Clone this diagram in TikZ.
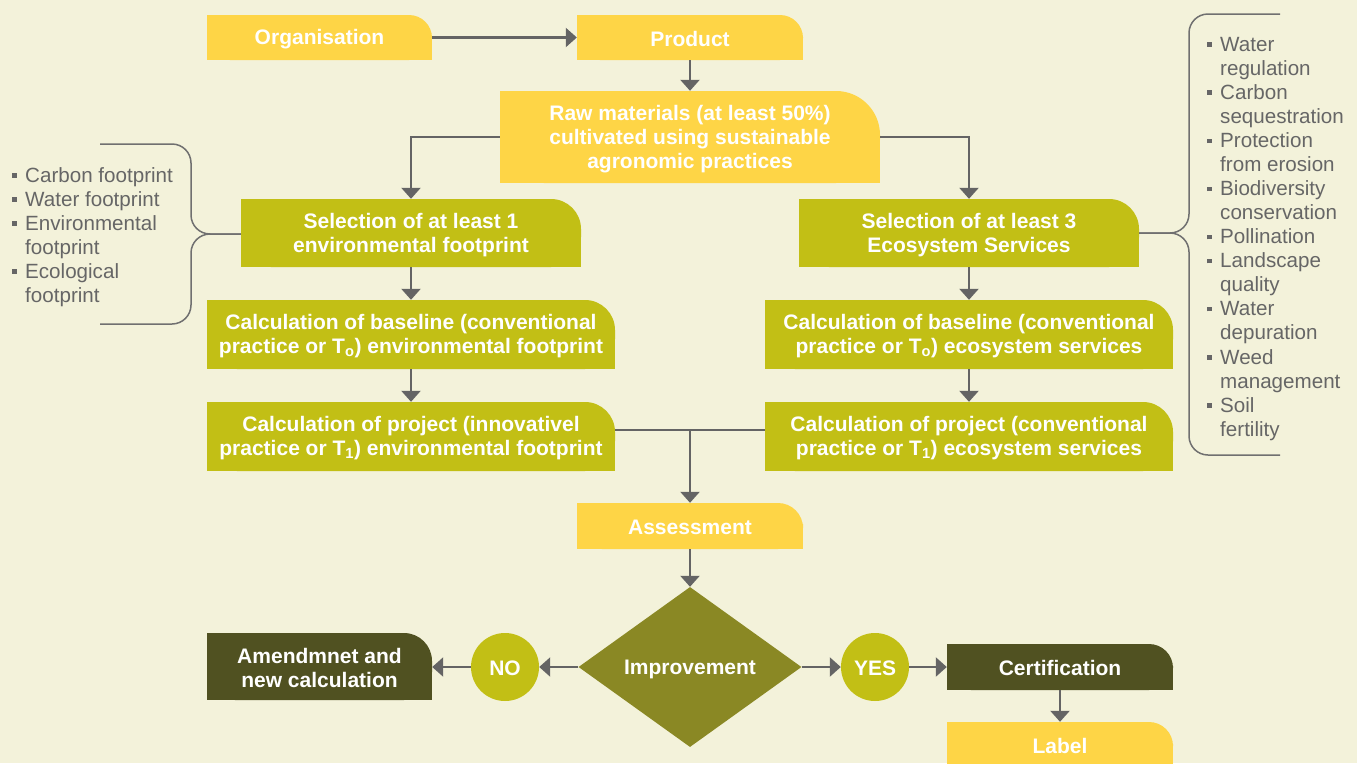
\documentclass[tikz,border=0pt]{standalone}
\usepackage{fontspec}
\setmainfont{Liberation Sans}
\usetikzlibrary{arrows.meta,shapes.geometric}
\definecolor{bg}{RGB}{243,242,218}
\definecolor{yel}{RGB}{254,213,70}
\definecolor{grn}{RGB}{194,191,21}
\definecolor{olv}{RGB}{138,136,36}
\definecolor{dkb}{RGB}{80,81,33}
\definecolor{arrc}{RGB}{100,100,100}
\definecolor{txtg}{RGB}{102,102,102}
\definecolor{brc}{RGB}{112,112,112}
\newcommand\bul{\makebox[13pt][l]{\raisebox{4.5pt}{\rule{4.5pt}{4.5pt}}}}
\newcommand\ind{\hspace*{13pt}}
\newcommand\bs{\rule[-2pt]{0pt}{21pt}}
\newcommand\mybox[8]{%
  \fill[#7,rounded corners=#6pt] (#2,#3) rectangle (#4,#5);
  \fill[#7] (#2,#3) rectangle ({#4-#6},#5);
  \fill[#7] (#2,{#3+#6}) rectangle (#4,#5);
  \node[boxtext,minimum width={#4-#2},minimum height={#5-#3}] (#1) at ({(#2+#4)/2},{(#3+#5)/2}) {#8};
}
\tikzset{
  boxtext/.style={text=white,font=\bfseries\fontsize{21}{24}\selectfont,align=center,inner sep=0pt},
  arr/.style={draw=arrc,line width=2.3pt,-{Triangle[width=19pt,length=11pt]}},
  plain/.style={draw=arrc,line width=2.3pt},
  brace/.style={draw=brc,line width=1.5pt,rounded corners=19pt},
  listtext/.style={text=txtg,font=\fontsize{20.6}{24.05}\selectfont,align=left,inner sep=0pt}
}
\begin{document}
\begin{tikzpicture}[x=1pt,y=-1pt]
\fill[bg] (0,0) rectangle (1357,763);
\useasboundingbox (0,0) rectangle (1357,763);
% boxes
\mybox{org}{207}{15}{432}{60}{23}{yel}{\bs Organisation}
\mybox{prod}{577}{15}{803}{60}{23}{yel}{\bs Product}
\mybox{raw}{500}{91}{880}{183}{44}{yel}{\bs Raw materials (at least 50\%)\\\bs cultivated using sustainable\\\bs agronomic practices}
\mybox{selenv}{241}{199}{581}{267}{30}{grn}{\bs Selection of at least 1\\\bs environmental footprint}
\mybox{seles}{799}{199}{1139}{267}{30}{grn}{\bs Selection of at least 3\\\bs Ecosystem Services}
\mybox{baseenv}{207}{300}{615}{369}{30}{grn}{\bs Calculation of baseline (conventional\\\bs practice or T\textsubscript{o}) environmental footprint}
\mybox{basees}{765}{300}{1173}{369}{30}{grn}{\bs Calculation of baseline (conventional\\\bs practice or T\textsubscript{o}) ecosystem services}
\mybox{projenv}{207}{402}{615}{471}{30}{grn}{\bs Calculation of project (innovativel\\\bs practice or T\textsubscript{1}) environmental footprint}
\mybox{projes}{765}{402}{1173}{471}{30}{grn}{\bs Calculation of project (conventional\\\bs practice or T\textsubscript{1}) ecosystem services}
\mybox{assess}{577}{503}{803}{549}{25}{yel}{\bs Assessment}
\mybox{amend}{207}{633}{432}{700}{28}{dkb}{\bs Amendmnet and\\\bs new calculation}
\mybox{cert}{947}{644}{1173}{690}{24}{dkb}{\bs Certification}
\mybox{label}{947}{722}{1173}{768}{24}{yel}{\bs Label}
\node[diamond,fill=olv,boxtext,minimum width=223pt,minimum height=160pt,aspect=1.4] (imp) at (690,667) {\bs Improvement};
\node[circle,fill=grn,boxtext,minimum size=68pt] (no) at (505,667) {\bs NO};
\node[circle,fill=grn,boxtext,minimum size=68pt] (yes) at (875,667) {\bs YES};
% connectors
\draw[arr] (org) -- (prod);
\draw[arr] (prod) -- (raw);
\draw[arr] (raw.west) -| (selenv.north);
\draw[arr] (raw.east) -| (seles.north);
\draw[arr] (selenv) -- (baseenv);
\draw[arr] (baseenv) -- (projenv);
\draw[arr] (seles) -- (basees);
\draw[arr] (basees) -- (projes);
\coordinate (j) at (690,430);
\draw[plain] (projenv.east |- j) -- (projes.west |- j);
\draw[arr] (j) -- (assess.north);
\draw[arr] (assess) -- (imp);
\draw[arr] (imp) -- (no);
\draw[arr] (no.west) -- (no.west -| amend.east);
\draw[arr] (imp) -- (yes);
\draw[arr] (yes) -- (cert);
\draw[arr] (cert) -- (label);
% braces
\coordinate (lt) at (100,144);
\coordinate (lb) at (100,324);
\draw[brace] (lt) -- (191,144) -- (191,234) -- (selenv.west |- 0,234);
\draw[brace] (lb) -- (191,324) -- (191,234) -- (selenv.west |- 0,234);
\coordinate (rt) at (1280,14);
\coordinate (rb) at (1280,455);
\draw[brace] (rt) -- (1189,14) -- (1189,233) -- (seles.east |- 0,233);
\draw[brace] (rb) -- (1189,455) -- (1189,233) -- (seles.east |- 0,233);
% lists
\node[listtext,anchor=north west] (llist) at (12,167) {\bul Carbon footprint\\\bul Water footprint\\\bul Environmental\\\ind footprint\\\bul Ecological\\\ind footprint};
\node[listtext,anchor=north west] (rlist) at (1207,37) {\bul Water\\\ind regulation\\\bul Carbon\\\ind sequestration\\\bul Protection\\\ind from erosion\\\bul Biodiversity\\\ind conservation\\\bul Pollination\\\bul Landscape\\\ind quality\\\bul Water\\\ind depuration\\\bul Weed\\\ind management\\\bul Soil\\\ind fertility};
\end{tikzpicture}
\end{document}
